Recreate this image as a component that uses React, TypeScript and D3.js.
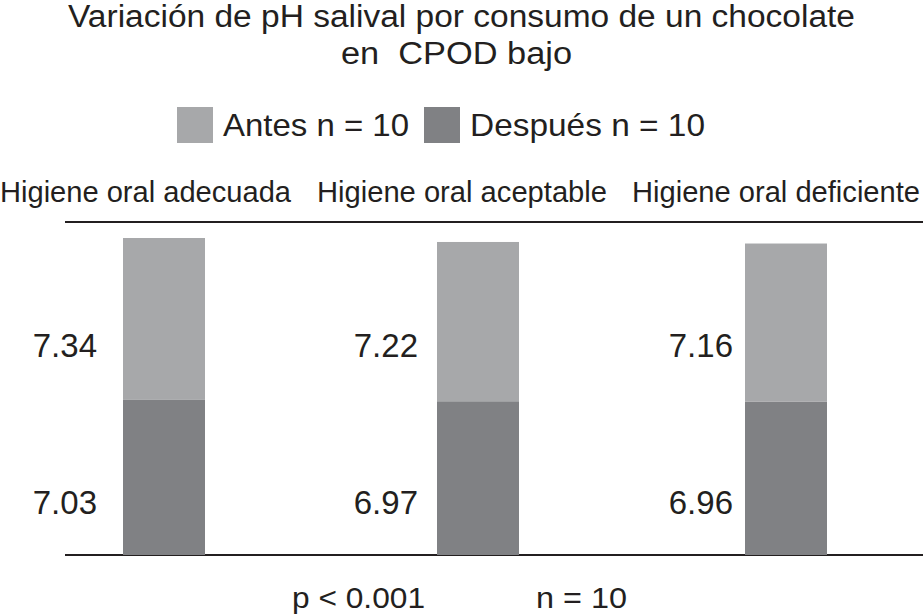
import React, { useEffect, useRef } from 'react';
import * as d3 from 'd3';

const categories = ['Higiene oral adecuada', 'Higiene oral aceptable', 'Higiene oral deficiente'];
const antes = [7.34, 7.22, 7.16];
const despues = [7.03, 6.97, 6.96];
const seriesNames = ['Antes n = 10', 'Después n = 10'];
const titleLines = ['Variación de pH salival por consumo de un chocolate', 'en  CPOD bajo'];
const footer = ['p < 0.001', 'n = 10'];

const COLOR_ANTES = '#a7a8aa';
const COLOR_DESPUES = '#808184';
const INK = '#231f20';
const FONT = '"Liberation Sans", Arial, sans-serif';

const App: React.FC = () => {
  const svgRef = useRef<SVGSVGElement>(null);
  const width = 923;
  const height = 616;

  useEffect(() => {
    document.body.style.margin = '0';
    if (!svgRef.current) return;
    const svg = d3.select(svgRef.current);
    svg.selectAll('*').remove();

    const baseY = 555;
    const topLineY = 222;

    const barCenters = [164, 478, 786];
    const barW = 82;
    const labelRight = [97, 418, 733];

    const y = d3.scaleLinear()
      .domain([0, 14.37])
      .range([0, 317]);

    const addText = (
      txt: string, tx: number, ty: number, size: number,
      anchor: string, len?: number
    ) => {
      const t = svg.append('text')
        .attr('x', tx)
        .attr('y', ty)
        .attr('text-anchor', anchor)
        .attr('font-family', FONT)
        .attr('font-size', size)
        .attr('fill', INK)
        .style('white-space', 'pre')
        .text(txt);
      if (len) t.attr('textLength', len).attr('lengthAdjust', 'spacingAndGlyphs');
      return t;
    };

    // title
    addText(titleLines[0], 68, 27, 31, 'start', 787);
    addText(titleLines[1], 341, 64, 31, 'start', 231);

    // legend
    const legendX = [177, 424];
    const legendLen = [186, 235];
    const legendColors = [COLOR_ANTES, COLOR_DESPUES];
    seriesNames.forEach((name, i) => {
      svg.append('rect')
        .attr('x', legendX[i])
        .attr('y', 107)
        .attr('width', 36)
        .attr('height', 36)
        .attr('fill', legendColors[i]);
      addText(name, legendX[i] + 46, 136, 32, 'start', legendLen[i]);
    });

    // category labels
    const catX = [0, 317, 632];
    const catLen = [291, 290, 288];
    categories.forEach((c, i) => addText(c, catX[i], 202, 29, 'start', catLen[i]));

    // rules
    [topLineY, baseY].forEach(ly => {
      svg.append('line')
        .attr('x1', 65)
        .attr('x2', 923)
        .attr('y1', ly)
        .attr('y2', ly)
        .attr('stroke', INK)
        .attr('stroke-width', 2);
    });

    // stacked bars
    categories.forEach((_, i) => {
      const cx = barCenters[i];
      const hD = y(despues[i]);
      const hA = y(antes[i]);
      svg.append('rect')
        .attr('x', cx - barW / 2)
        .attr('y', baseY - hD)
        .attr('width', barW)
        .attr('height', hD)
        .attr('fill', COLOR_DESPUES);
      svg.append('rect')
        .attr('x', cx - barW / 2)
        .attr('y', baseY - hD - hA)
        .attr('width', barW)
        .attr('height', hA)
        .attr('fill', COLOR_ANTES);

      addText(antes[i].toFixed(2), labelRight[i], 357, 33, 'end');
      addText(despues[i].toFixed(2), labelRight[i], 514, 33, 'end');
    });

    // footer
    const footerX = [292, 536];
    const footerLen = [133, 91];
    footer.forEach((t, i) => addText(t, footerX[i], 608, 30, 'start', footerLen[i]));
  }, []);

  return (
    <svg ref={svgRef} width={width} height={height} style={{ display: 'block', background: '#fff' }} />
  );
};

export default App;
